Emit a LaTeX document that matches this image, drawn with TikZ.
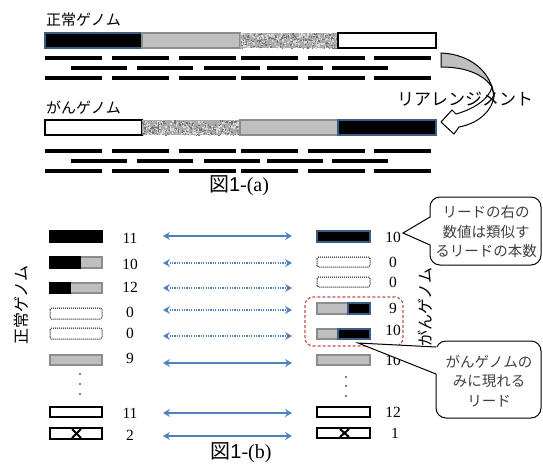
\documentclass[tikz,border=0pt]{standalone}
\usepackage{fontspec}
\setmainfont{Liberation Serif}
\newfontfamily\jp{Noto Sans CJK JP}
\newfontfamily\sansf{Liberation Sans}
\usetikzlibrary{arrows.meta}
\definecolor{barblue}{HTML}{385D8A}
\definecolor{bargrey}{HTML}{BFBFBF}
\definecolor{bargreyline}{HTML}{8C8C8C}
\definecolor{arrowblue}{HTML}{4F81BD}
\definecolor{calloutred}{HTML}{C0504D}
\definecolor{callouttext}{HTML}{404040}
\definecolor{noisebase}{HTML}{ABABAB}
\newcommand\noisebox[4]{%
  \begin{scope}
  \clip (#1,#2) rectangle (#3,#4);
  \fill[noisebase] (#1,#2) rectangle (#3,#4);
  \foreach \k in {1,...,220}{
    \fill[gray!30] ({#1+rnd*(#3-#1)},{#2+rnd*(#4-#2)}) rectangle +(1.5,1.5);
  }
  \foreach \k in {1,...,160}{
    \fill[gray!90!black] ({#1+rnd*(#3-#1)},{#2+rnd*(#4-#2)}) rectangle +(1.3,1.3);
  }
  \end{scope}
}
\begin{document}
\begin{tikzpicture}[x=1pt,y=-1pt,
  blackseg/.style={fill=black,draw=barblue,line width=1.2pt},
  blackplain/.style={fill=black,draw=black,line width=1.2pt},
  greyseg/.style={fill=bargrey,draw=bargreyline,line width=1.2pt},
  whiteseg/.style={fill=white,draw=black,line width=1.2pt},
  dotseg/.style={draw=black,line width=1pt,dash pattern=on 1pt off 1pt,rounded corners=1.5pt},
  readline/.style={line width=3.5pt,black},
  arr/.style={arrowblue,line width=2pt,{Stealth[length=7pt,width=8pt,inset=2.5pt]}-{Stealth[length=7pt,width=8pt,inset=2.5pt]}},
  darr/.style={arr,dash pattern=on 1.3pt off 1.1pt},
  num/.style={font=\fontsize{15.5}{15.5}\selectfont,inner sep=0pt},
  jplabel/.style={font=\jp\fontsize{15}{15}\selectfont,inner sep=0pt},
  caption/.style={font=\fontsize{20}{20}\selectfont,inner sep=0pt},
  calltext/.style={font=\jp\fontsize{14.5}{19.5}\selectfont,text=callouttext,align=center,inner sep=0pt},
  callbox/.style={draw=black,fill=white,line width=1pt,rounded corners=10pt},
  dotmark/.style={fill=black,inner sep=0pt,minimum size=1.8pt,circle}
]
\useasboundingbox (0,0) rectangle (543,466);
\pgfmathsetseed{11}

% ---------- (a) ----------
\node[jplabel,anchor=west] (lblnormal) at (46,20) {正常ゲノム};
\draw[blackseg] (45,33) rectangle (142,48);
\draw[greyseg] (142,33) rectangle (240,48);
\noisebox{240}{33}{338}{48}
\draw[whiteseg] (338,33) rectangle (436,48);

\foreach \yy in {58,78,151,171}{
  \foreach \xx in {45,112,179,241,308,374}{
    \draw[readline] (\xx,\yy) -- ++(57,0);
  }
}
\foreach \yy in {68,161}{
  \foreach \xx in {71,137,204,267,332}{
    \draw[readline] (\xx,\yy) -- ++(56,0);
  }
}

\node[jplabel,anchor=west] (lblcancer) at (46,108) {がんゲノム};
\draw[whiteseg] (45,120) rectangle (142,135);
\noisebox{142}{120}{240}{135}
\draw[greyseg] (240,120) rectangle (338,135);
\draw[blackseg] (338,120) rectangle (436,135);

% curved arrow
\filldraw[fill=bargrey,draw=black,line width=1pt]
  (441,53) .. controls (470,54) and (492,72) .. (494,97)
  -- (492,87) .. controls (484,75) and (467,67) .. (441,67) -- cycle;
\filldraw[fill=white,draw=black,line width=1pt]
  (441,122) -- (452,110) -- (456,114) .. controls (474,109) and (489,99) .. (492,87)
  -- (494,97) .. controls (491,113) and (476,124) .. (459,127) -- (454,134) -- cycle;
\node[font=\jp\fontsize{17}{17}\selectfont,inner sep=0pt] (lblrearr) at (465,99) {リアレンジメント};

\node[caption] (capa) at (239,186) {{\jp 図}{\sansf 1}-(a)};

% ---------- (b) ----------
\node[jplabel,font=\jp\fontsize{16}{16}\selectfont,rotate=90] (vnormal) at (21,305) {正常ゲノム};
\node[jplabel,font=\jp\fontsize{16}{16}\selectfont,rotate=90] (vcancer) at (425,307) {がんゲノム};

% left reads
\draw[blackplain] (50,231) rectangle (102,242);
\draw[greyseg] (80,257) rectangle (102,268);
\draw[blackplain] (50,257) rectangle (80,268);
\draw[greyseg] (70,283) rectangle (102,293);
\draw[blackplain] (50,283) rectangle (70,293);
\draw[dotseg] (50,308) rectangle (102,319);
\draw[dotseg] (50,328) rectangle (102,339);
\draw[greyseg] (50,355) rectangle (102,365);
\node[dotmark] (ldot1) at (80,374) {};
\node[dotmark] (ldot2) at (80,384) {};
\node[dotmark] (ldot3) at (80,394) {};
\draw[whiteseg] (50,407) rectangle (102,417);
\draw[whiteseg] (50,428) rectangle (102,439);
\draw[line width=2pt] (72,429) -- (81,438) (72,438) -- (81,429);

\node[num] (ln1) at (130,238) {11};
\node[num] (ln2) at (130,264) {10};
\node[num] (ln3) at (130,287) {12};
\node[num] (ln4) at (130,312) {0};
\node[num] (ln5) at (130,333) {0};
\node[num] (ln6) at (130,358) {9};
\node[num] (ln7) at (130,413) {11};
\node[num] (ln8) at (130,435) {2};

% right reads
\draw[blackseg] (317,231) rectangle (370,242);
\draw[dotseg] (317,257) rectangle (370,267);
\draw[dotseg] (317,277) rectangle (370,287);
\draw[greyseg] (317,303) rectangle (348,314);
\draw[blackseg] (348,303) rectangle (370,314);
\draw[greyseg] (317,329) rectangle (338,339);
\draw[blackseg] (338,329) rectangle (370,339);
\draw[greyseg] (317,355) rectangle (370,365);
\node[dotmark] (rdot1) at (346,377) {};
\node[dotmark] (rdot2) at (346,386) {};
\node[dotmark] (rdot3) at (346,396) {};
\draw[whiteseg] (317,407) rectangle (370,417);
\draw[whiteseg] (317,428) rectangle (370,438);
\draw[line width=2pt] (340,429) -- (349,437) (340,437) -- (349,429);

\node[num] (rn1) at (393,237) {10};
\node[num] (rn2) at (393,262) {0};
\node[num] (rn3) at (393,282) {0};
\node[num] (rn4) at (393,308) {9};
\node[num] (rn5) at (393,330) {10};
\node[num] (rn6) at (393,360) {10};
\node[num] (rn7) at (393,412) {12};
\node[num] (rn8) at (395,433) {1};

% arrows
\foreach \i/\yy in {1/236,2/263,3/288,4/310,5/336,6/363,7/413,8/436}{
  \coordinate (al\i) at (163,\yy);
  \coordinate (ar\i) at (292,\yy);
}
\draw[arr] (al1) -- (ar1);
\draw[darr] (al2) -- (ar2);
\draw[darr] (al3) -- (ar3);
\draw[darr] (al4) -- (ar4);
\draw[darr] (al5) -- (ar5);
\draw[arr] (al6) -- (ar6);
\draw[arr] (al7) -- (ar7);
\draw[arr] (al8) -- (ar8);

% red dashed group
\draw[calloutred,line width=1.2pt,dash pattern=on 3pt off 2pt,rounded corners=8pt] (305,297) rectangle (403,346);

% callout 1
\node[callbox,minimum width=111pt,minimum height=68pt,inner sep=0pt] (call1) at (485.5,231) {};
\coordinate (c1tip) at (403,233);
\coordinate (c1a) at (430,217);
\coordinate (c1b) at (430,245);
\fill[white] ([xshift=1.5pt]c1a) -- (c1tip) -- ([xshift=1.5pt]c1b) -- cycle;
\draw[line width=1pt] (c1a) -- (c1tip) -- (c1b);
\node[calltext] (t1) at (486,232) {リードの右の\\数値は類似す\\るリードの本数};

% callout 2
\node[callbox,minimum width=105pt,minimum height=77pt,inner sep=0pt] (call2) at (488.5,379.5) {};
\coordinate (c2tip) at (358,343);
\coordinate (c2a) at (436,347);
\coordinate (c2b) at (436,374);
\fill[white] ([xshift=1.5pt]c2a) -- (c2tip) -- ([xshift=1.5pt]c2b) -- cycle;
\draw[line width=1pt] (c2a) -- (c2tip) -- (c2b);
\node[calltext] (t2) at (489,381) {がんゲノムの\\みに現れる\\リード};

\node[caption] (capb) at (241,453) {{\jp 図}{\sansf 1}-(b)};
\end{tikzpicture}
\end{document}
